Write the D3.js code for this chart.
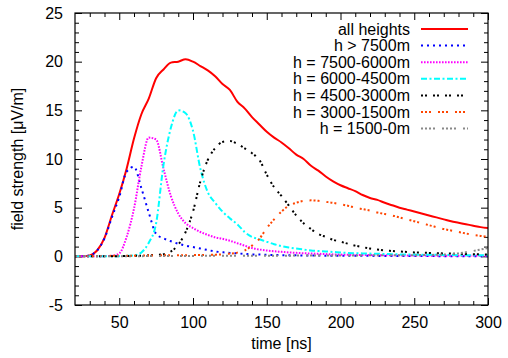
<!DOCTYPE html>
<html>
<head>
<meta charset="utf-8">
<title>field strength</title>
<script src="https://d3js.org/d3.v7.min.js"></script>
<style>
  body { margin: 0; background: #fff; }
  text { font-family: "Liberation Sans", Arial, sans-serif; }
</style>
</head>
<body>
<svg width="508" height="358"></svg>
<script>
// sample grid [ns]
var time = [20,25,30,35,40,45,50,55,60,65, 70,75,80,85,90,95,100,105,110,115,
  120,125,130,135,140,145,150,155,160,165, 170,175,180,185,190,195,200,205,210,215,
  220,225,230,235,240,245,250,255,260,265, 270,275,280,285,290,295,300];

var allHeights = [0,0,0.1,0.6,1.9,4.2,6.4,9.0,12.1,14.6,
  16.2,18.3,19.2,19.9,20.0,20.25,20.0,19.55,19.1,18.5,
  17.7,17.1,15.9,15.2,14.3,13.55,12.8,12.2,11.7,11.1,
  10.45,10.0,9.3,8.8,8.2,7.7,7.3,7.0,6.7,6.3,
  6.0,5.8,5.5,5.25,5.0,4.8,4.6,4.4,4.2,4.0,
  3.8,3.6,3.45,3.3,3.15,3.0,2.9];
var h7500 = [0,0,0.1,0.6,1.85,4.0,6.1,8.7,9.2,7.0,
  4.5,2.3,1.85,1.55,1.3,1.1,0.95,0.8,0.65,0.5,
  0.42,0.35,0.3,0.25,0.2,0.18,0.15,0.13,0.12,0.1,
  0.1,0.09,0.08,0.08,0.07,0.07,0.06,0.06,0.05,0.05,
  0.05,0.04,0.04,0.04,0.03,0.03,0.03,0.03,0.03,0.02,
  0.02,0.02,0.02,0.02,0.02,0.02,0.02];
var h6000 = [0,0,0,0,0.02,0.05,0.3,2.0,4.9,9.2,
  12.2,12.0,9.0,6.2,4.4,3.4,2.9,2.5,2.2,1.95,
  1.8,1.6,1.35,1.1,0.85,0.7,0.6,0.52,0.46,0.4,
  0.36,0.32,0.29,0.26,0.23,0.2,0.18,0.16,0.15,0.14,
  0.13,0.12,0.11,0.1,0.1,0.09,0.08,0.08,0.07,0.07,
  0.06,0.06,0.05,0.05,0.05,0.05,0.05];
var h4500 = [0,0,0,0,0,0,0.02,0.05,0.1,0.4,
  1.4,3.4,9.4,13.2,15.0,14.7,12.9,9.0,6.6,5.5,
  4.6,3.9,3.3,2.5,2.0,1.75,1.5,1.25,1.05,0.9,
  0.8,0.7,0.6,0.55,0.5,0.45,0.4,0.35,0.32,0.3,
  0.28,0.26,0.24,0.22,0.2,0.19,0.18,0.17,0.16,0.15,
  0.14,0.13,0.12,0.12,0.11,0.1,0.1];
var h3000 = [0,0,0,0,0,0,0.02,0.03,0.05,0.07,
  0.1,0.15,0.22,0.5,1.2,2.5,4.6,7.7,9.9,11.1,
  11.75,11.85,11.55,11.1,10.6,9.9,8.4,7.1,6.2,5.2,
  4.2,3.4,2.8,2.3,2.0,1.7,1.5,1.3,1.1,0.95,
  0.8,0.7,0.6,0.55,0.5,0.45,0.4,0.38,0.35,0.33,
  0.3,0.28,0.26,0.24,0.22,0.2,0.2];
var h1500 = [0,0,0,0.02,0.03,0.05,0.05,0.06,0.07,0.08,
  0.08,0.09,0.1,0.1,0.11,0.12,0.13,0.14,0.15,0.17,
  0.2,0.28,0.38,0.6,1.1,1.8,2.9,3.8,4.6,5.2,
  5.5,5.7,5.75,5.7,5.6,5.5,5.35,5.2,5.0,4.85,
  4.7,4.5,4.35,4.2,4.0,3.8,3.6,3.4,3.2,3.0,
  2.8,2.65,2.5,2.35,2.2,2.1,2.0];
var h0 = [0,0,0,0,0,0.01,0.01,0.02,0.02,0.02,
  0.03,0.03,0.03,0.04,0.04,0.04,0.04,0.05,0.05,0.05,
  0.05,0.05,0.06,0.06,0.06,0.06,0.07,0.07,0.07,0.07,
  0.08,0.08,0.08,0.08,0.08,0.09,0.09,0.09,0.09,0.1,
  0.1,0.1,0.1,0.1,0.11,0.11,0.12,0.13,0.14,0.16,
  0.19,0.23,0.3,0.42,0.55,0.7,0.85];

var seriesNames = ["all heights","h > 7500m","h = 7500-6000m","h = 6000-4500m",
  "h = 4500-3000m","h = 3000-1500m","h = 1500-0m"];
var seriesValues = [allHeights,h7500,h6000,h4500,h3000,h1500,h0];

var xMajor = [50,100,150,200,250,300];
var yMajor = [-5,0,5,10,15,20,25];

// line styles, same order as the series
var colors = ["#ff0000","#0000ff","#ff00ff","#00ffff","#000000","#ff4500","#888888"];
var dashes = [null,"2,4","1.6,1.4","6,2.5,2,2.5","2,2,2,6","2,2,2,2,2,7","2,2,2,2,2,2,2,7"];

var marge = {top:13,bottom:53,left:75,right:20};
var W = 508, H = 358;
var svg = d3.select("svg");

var x = d3.scaleLinear().domain([20,300]).range([marge.left, W-marge.right]);
var y = d3.scaleLinear().domain([-5,25]).range([H-marge.bottom, marge.top]);

var font = '"Liberation Sans", Arial, sans-serif';
var plain = function(d){ return String(d); }; // keep "-5" with a plain hyphen

svg.append("clipPath").attr("id","plotclip")
  .append("rect")
  .attr("x",x(20)).attr("y",y(25))
  .attr("width",x(300)-x(20)).attr("height",y(-5)-y(25));

// minor ticks
var xMinor = d3.range(30,300,10).filter(function(v){ return v % 50 != 0; });
var yMinor = d3.range(-4,25,1).filter(function(v){ return v % 5 != 0; });

function styleAxis(g){
  g.select(".domain").remove();
  g.attr("font-size",16).attr("font-family",font);
  g.selectAll("line").attr("stroke","#000");
  g.selectAll("text").attr("fill","#000");
}

svg.append("g").attr("transform","translate(0,"+y(-5)+")")
  .call(d3.axisBottom(x).tickValues(xMajor).tickSize(-7).tickPadding(12).tickFormat(plain))
  .call(styleAxis);
svg.append("g").attr("transform","translate(0,"+y(-5)+")")
  .call(d3.axisBottom(x).tickValues(xMinor).tickSize(-4).tickFormat(""))
  .call(styleAxis);
svg.append("g").attr("transform","translate(0,"+y(25)+")")
  .call(d3.axisTop(x).tickValues(xMajor).tickSize(-7).tickFormat(""))
  .call(styleAxis);
svg.append("g").attr("transform","translate(0,"+y(25)+")")
  .call(d3.axisTop(x).tickValues(xMinor).tickSize(-4).tickFormat(""))
  .call(styleAxis);

svg.append("g").attr("transform","translate("+x(20)+",0)")
  .call(d3.axisLeft(y).tickValues(yMajor).tickSize(-7).tickPadding(12).tickFormat(plain))
  .call(styleAxis);
svg.append("g").attr("transform","translate("+x(20)+",0)")
  .call(d3.axisLeft(y).tickValues(yMinor).tickSize(-4).tickFormat(""))
  .call(styleAxis);
svg.append("g").attr("transform","translate("+x(300)+",0)")
  .call(d3.axisRight(y).tickValues(yMajor).tickSize(-7).tickFormat(""))
  .call(styleAxis);
svg.append("g").attr("transform","translate("+x(300)+",0)")
  .call(d3.axisRight(y).tickValues(yMinor).tickSize(-4).tickFormat(""))
  .call(styleAxis);

// curves
var line = d3.line()
  .x(function(d){ return x(d[0]); })
  .y(function(d){ return y(d[1]); })
  .curve(d3.curveMonotoneX);

var plot = svg.append("g").attr("clip-path","url(#plotclip)");
plot.selectAll("path")
  .data(seriesValues)
  .enter()
  .append("path")
  .attr("d",function(vals){ return line(time.map(function(t,i){ return [t, vals[i]]; })); })
  .attr("fill","none")
  .attr("stroke",function(d,i){ return colors[i]; })
  .attr("stroke-width",2)
  .attr("stroke-dasharray",function(d,i){ return dashes[i]; });

// frame
svg.append("rect")
  .attr("x",x(20)).attr("y",y(25))
  .attr("width",x(300)-x(20)).attr("height",y(-5)-y(25))
  .attr("fill","none").attr("stroke","#000").attr("stroke-width",1.2);

// legend
var legend = svg.append("g").selectAll("g")
  .data(seriesNames)
  .enter()
  .append("g")
  .attr("transform",function(d,i){ return "translate(0,"+(29+i*16.6)+")"; });
legend.append("text")
  .attr("x",410).attr("dy","0.35em")
  .attr("text-anchor","end")
  .attr("font-size",16)
  .text(function(d){ return d; });
legend.append("line")
  .attr("x1",421).attr("x2",468)
  .attr("stroke",function(d,i){ return colors[i]; })
  .attr("stroke-width",2)
  .attr("stroke-dasharray",function(d,i){ return dashes[i]; });

// axis titles
svg.append("text")
  .attr("x",(x(20)+x(300))/2).attr("y",349)
  .attr("text-anchor","middle").attr("font-size",16)
  .text("time [ns]");
svg.append("text")
  .attr("transform","translate(23,"+((y(-5)+y(25))/2)+") rotate(-90)")
  .attr("text-anchor","middle").attr("font-size",16)
  .text("field strength [\u03bcV/m]");
</script>
</body>
</html>
